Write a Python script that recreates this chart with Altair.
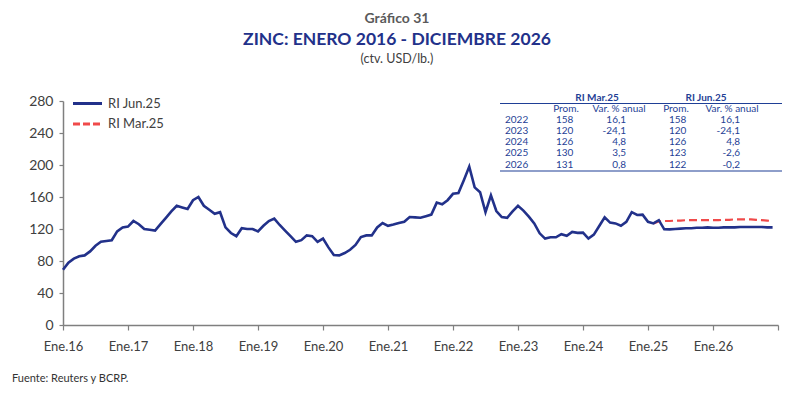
import altair as alt
import pandas as pd

# ---------------- data ----------------
# Monthly zinc price (ctv. USD/lb.), Jan-2016 .. Apr-2025 (observed)
observed = [
    69, 78, 83, 86, 87, 92, 99, 104, 105, 106, 117, 122,            # 2016
    123, 130, 126, 120, 119, 118, 126, 134, 142, 149, 147, 145,     # 2017
    156, 160, 149, 144, 139, 141, 122, 115, 111, 121, 120, 120,     # 2018
    117, 124, 130, 133, 125, 118, 111, 104, 106, 112, 111, 104,     # 2019
    108, 97, 87.5, 87, 90, 94, 100, 110, 112, 112, 122, 127.5,      # 2020
    124, 125.5, 127.5, 129, 135, 134.5, 134, 136, 138, 153, 151, 156,  # 2021
    164, 165, 181, 198, 172, 166, 141, 162, 142.5, 135, 134, 142,   # 2022
    149, 143, 135.5, 127, 114.6, 108, 109.6, 109.6, 113.5, 111.6, 116.3, 115.2,  # 2023
    115.4, 108, 113, 123.7, 134.6, 128, 127, 124, 129, 141, 137.5, 138,  # 2024
    129, 127, 131, 119.6,                                           # 2025 Jan-Apr
]
# RI Jun.25 projection, May-2025 .. Dec-2026
jun25_proj = [119.5, 120, 120.5, 121, 121, 121.5, 121.5, 122,
              121.5, 121.5, 122, 122, 122, 122.5, 122.5, 122.5, 122.5, 122.5, 122, 122]
# RI Mar.25 path, Feb-2025 .. Dec-2026
mar25_start = 109
mar25_vals = [127, 129.5, 130, 130, 130.5, 130.5, 131, 131, 131, 131, 131,
              131, 131, 131.5, 131.5, 132, 132, 132, 132, 131.5, 131, 130.5, 130]

series_names = ["RI Jun.25", "RI Mar.25"]
tick_labels = ["Ene.16", "Ene.17", "Ene.18", "Ene.19", "Ene.20", "Ene.21",
               "Ene.22", "Ene.23", "Ene.24", "Ene.25", "Ene.26", ""]
y_ticks = [0, 40, 80, 120, 160, 200, 240, 280]

# table
table_years = ["2022", "2023", "2024", "2025", "2026"]
mar_prom = ["158", "120", "126", "130", "131"]
mar_var = ["16,1", "-24,1", "4,8", "3,5", "0,8"]
jun_prom = ["158", "120", "126", "123", "122"]
jun_var = ["16,1", "-24,1", "4,8", "-2,6", "-0,2"]

# ---------------- styles ----------------
FONT = "Lato"
BLUE = "#22318a"
RED = "#f04a4a"
TBL = "#1f3f96"
AX = "#7f7f7f"
TXT = "#404040"
DASH = [8, 4]

jun_series = observed + jun25_proj
df_jun = pd.DataFrame({"m": list(range(len(jun_series))), "v": jun_series, "series": series_names[0]})
df_mar = pd.DataFrame({"m": list(range(mar25_start, mar25_start + len(mar25_vals))),
                       "v": mar25_vals, "series": series_names[1]})

label_js = "[" + ",".join("'" + t + "'" for t in tick_labels) + "][round(datum.value/12)]"

x_enc = alt.X("m:Q", scale=alt.Scale(domain=[0, 132], nice=False, zero=False),
              axis=alt.Axis(values=[12 * i for i in range(len(tick_labels))], labelExpr=label_js,
                            title=None, grid=False, tickSize=5, labelPadding=10, labelFontSize=13,
                            labelFlush=False, labelOverlap=False))
y_enc = alt.Y("v:Q", scale=alt.Scale(domain=[0, 280], nice=False),
              axis=alt.Axis(values=y_ticks, title=None, grid=False, tickSize=4, labelPadding=6,
                            labelFontSize=14))

mar_line = alt.Chart(df_mar).mark_line(strokeWidth=2.2, color=RED, strokeDash=DASH).encode(x=x_enc, y=y_enc)
jun_line = alt.Chart(df_jun).mark_line(strokeWidth=2.6, color=BLUE).encode(x=x_enc, y=y_enc)

one = pd.DataFrame({"k": [0]})

def txt(text, x, y, size, color, weight="normal", align="center"):
    return alt.Chart(one).mark_text(text=text, font=FONT, fontSize=size, color=color, fontWeight=weight,
                                    align=align, baseline="middle").encode(x=alt.value(x), y=alt.value(y))

def seg(x1, x2, y, color, width, dash=None, data=one):
    kw = dict(color=color, strokeWidth=width)
    if dash:
        kw["strokeDash"] = dash
    return alt.Chart(data).mark_rule(**kw).encode(x=alt.value(x1), x2=alt.value(x2), y=alt.value(y))

# legend
legend = [
    seg(10, 39, 2.5, BLUE, 3),
    txt(series_names[0], 45, 2.5, 13, TXT, align="left"),
    seg(10, 39, 23, RED, 3, [7, 3]),
    txt(series_names[1], 45, 23, 13, TXT, align="left"),
]

titles = [
    txt("Gráfico 31", 334, -82, 14, "#5a5a5a", "bold"),
    txt("ZINC: ENERO 2016 - DICIEMBRE 2026", 334, -61, 17.5, BLUE, "bold"),
    txt("(ctv. USD/lb.)", 334, -42, 12.5, TXT),
    txt("Fuente: Reuters y BCRP.", -51, 278, 11, "#333333", align="left"),
]

# table
rows = pd.DataFrame({"year": table_years, "mp": mar_prom, "mv": mar_var, "jp": jun_prom, "jv": jun_var})
rows["ty"] = [18.5 + 11.3 * i for i in range(len(rows))]

def col(field, x, align):
    return alt.Chart(rows).mark_text(font=FONT, fontSize=10, color=TBL, align=align, baseline="middle").encode(
        x=alt.value(x), y=alt.Y("ty:Q", scale=None), text=alt.Text(f"{field}:N"))

table_cols = [col("year", 442, "left"), col("mp", 493, "left"), col("mv", 563, "right"),
              col("jp", 606, "left"), col("jv", 677, "right")]
table_heads = [
    txt("RI Mar.25", 534, -3, 10, TBL, "bold"),
    txt("RI Jun.25", 643, -3, 10, TBL, "bold"),
    txt("Prom.", 503, 7.5, 10, TBL),
    txt("Var. % anual", 556, 7.5, 10, TBL),
    txt("Prom.", 613, 7.5, 10, TBL),
    txt("Var. % anual", 669, 7.5, 10, TBL),
]
table_lines = [seg(437, 719, 2.5, TBL, 1.2), seg(437, 719, 70, TBL, 1.2)]

chart = alt.layer(mar_line, jun_line, *legend, *table_lines, *table_heads, *table_cols, *titles).properties(
    width=715, height=224,
    autosize=alt.AutoSizeParams(type="none"),
    padding={"left": 55, "top": 93, "right": 12, "bottom": 63},
).configure_view(stroke=None).configure_axis(
    domainColor=AX, domainWidth=1.5, tickColor=AX, tickWidth=1.2,
    labelFont=FONT, labelColor=TXT,
)

chart.save("out.html", embed_options={"renderer": "svg", "actions": False})
